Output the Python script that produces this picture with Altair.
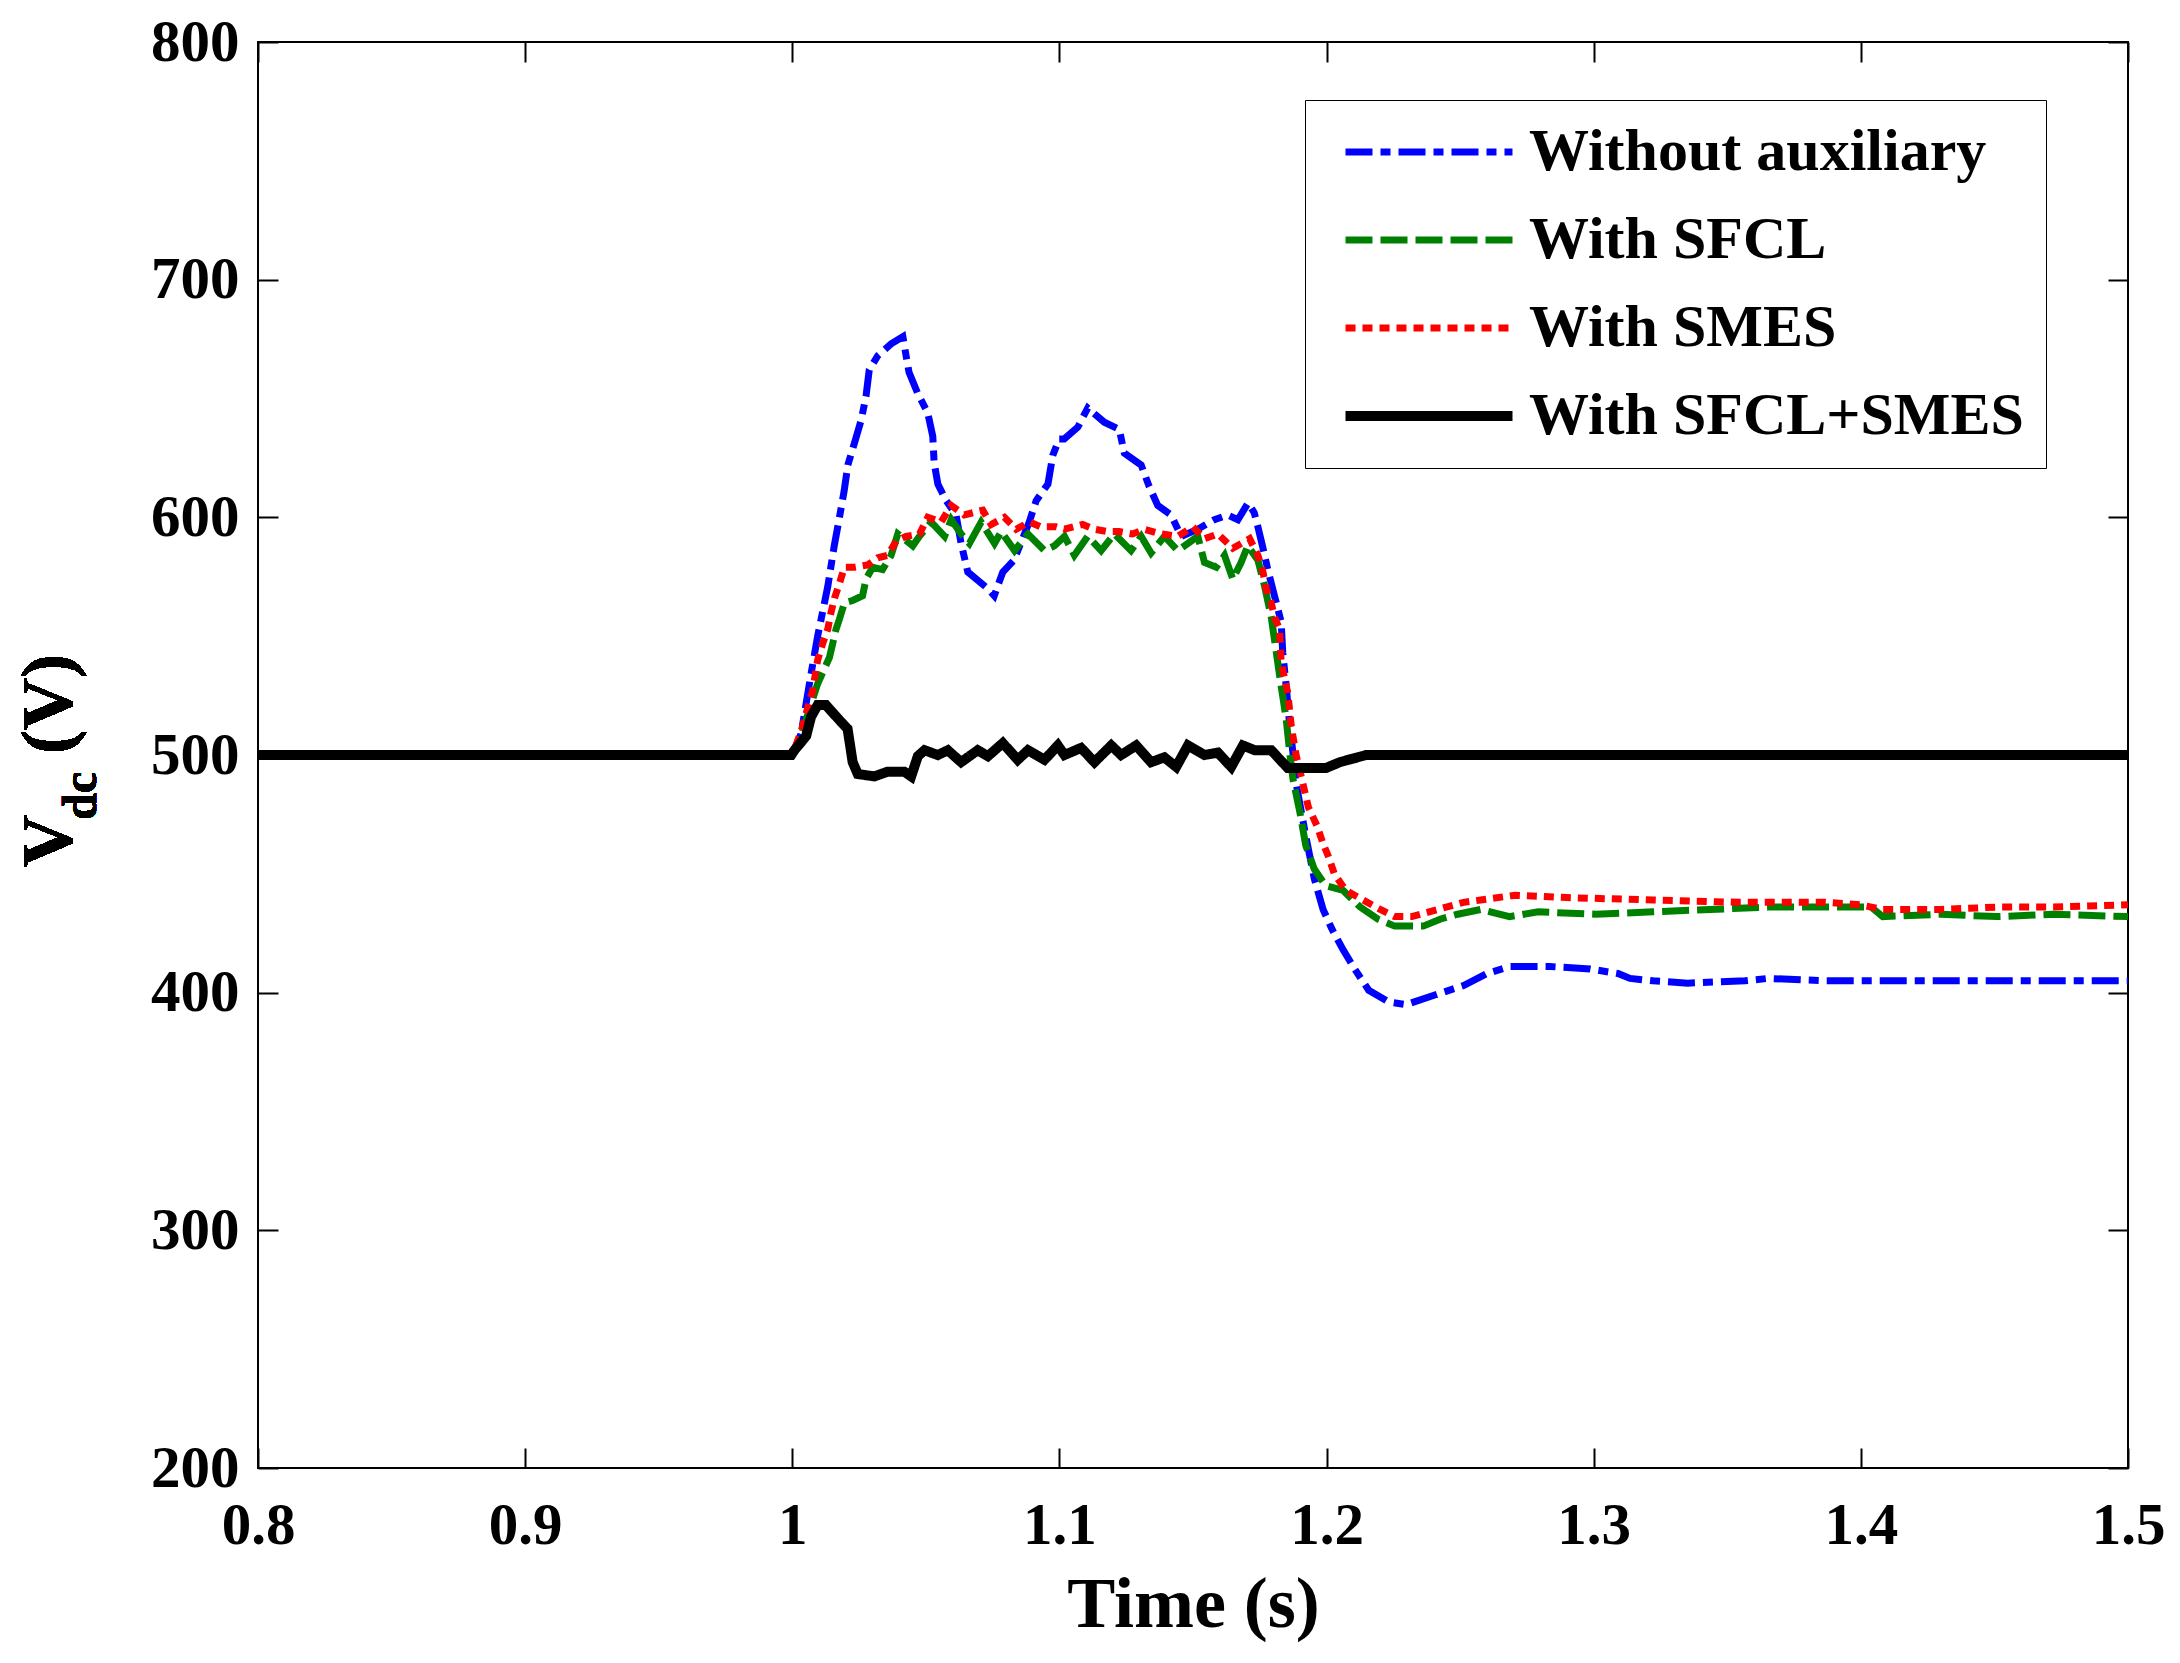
import altair as alt
import pandas as pd

# series names, colours and line styles (legend order = drawing order)
series_names = ["Without auxiliary", "With SFCL", "With SMES", "With SFCL+SMES"]
series_colors = ["#0000ff", "#008000", "#ff0000", "#000000"]
series_dash = [[27, 8, 10, 8], [27, 8], [10, 7], [1, 0]]
series_width = [7, 7, 7, 10]

# (time s, Vdc V)
without_aux = [
    (0.8, 500), (1.0, 500), (1.0033, 509), (1.007, 534), (1.0095, 550), (1.0133, 571),
    (1.0157, 588), (1.0175, 599), (1.0194, 611), (1.0208, 622), (1.0232, 631), (1.0258, 641),
    (1.0276, 651), (1.0288, 662), (1.032, 668), (1.037, 673), (1.0414, 676), (1.0426, 668),
    (1.0437, 661), (1.047, 652), (1.0507, 644), (1.0526, 634), (1.0531, 623), (1.0545, 614),
    (1.0576, 607), (1.0613, 601), (1.0632, 589), (1.0657, 577), (1.0732, 570), (1.0756, 567),
    (1.0788, 577), (1.083, 582), (1.0887, 598), (1.0913, 607), (1.0957, 614), (1.0975, 626),
    (1.0999, 633), (1.1018, 633), (1.1069, 638), (1.1106, 646), (1.1168, 640), (1.1224, 637),
    (1.1243, 627), (1.1306, 622), (1.1336, 613), (1.1368, 605), (1.1418, 601), (1.1456, 592),
    (1.1518, 595), (1.158, 599), (1.163, 601), (1.1668, 599), (1.1706, 606), (1.1729, 602),
    (1.1743, 596), (1.176, 588), (1.178, 578), (1.1805, 567), (1.183, 556), (1.1836, 543),
    (1.1849, 529), (1.186, 515), (1.1874, 501), (1.1886, 488), (1.1922, 466), (1.1954, 448),
    (1.1987, 435), (1.2019, 427), (1.2062, 418), (1.2105, 410), (1.2158, 401), (1.2234, 396),
    (1.2298, 395), (1.2405, 399), (1.2513, 403), (1.2599, 408), (1.2685, 411), (1.2835, 411),
    (1.2986, 410), (1.3093, 408), (1.3136, 406), (1.3222, 405), (1.3351, 404), (1.3566, 405),
    (1.3652, 406), (1.3867, 405), (1.5, 405),
]
with_sfcl = [
    (0.8, 500), (1.0, 500), (1.0035, 509), (1.0095, 530), (1.0139, 541), (1.0164, 553),
    (1.0176, 557), (1.0195, 564), (1.0226, 565), (1.0263, 567), (1.0276, 574), (1.0301, 579),
    (1.0338, 578), (1.037, 584), (1.0395, 593), (1.0451, 588), (1.0476, 592), (1.052, 598),
    (1.057, 592), (1.0595, 599), (1.0632, 593), (1.0663, 589), (1.0707, 598), (1.0757, 589),
    (1.0782, 594), (1.0832, 586), (1.0882, 593), (1.0944, 586), (1.0981, 588), (1.1019, 592),
    (1.1056, 584), (1.1106, 592), (1.1156, 586), (1.1206, 593), (1.1268, 586), (1.1306, 592),
    (1.1343, 585), (1.1393, 592), (1.1443, 586), (1.1518, 592), (1.1543, 581), (1.1587, 579),
    (1.1618, 584), (1.1649, 574), (1.168, 581), (1.1705, 588), (1.1743, 582), (1.1768, 571),
    (1.1793, 558), (1.1812, 543), (1.183, 529), (1.1849, 515), (1.1862, 501), (1.1874, 490),
    (1.19, 476), (1.1922, 462), (1.1954, 452), (1.1997, 445), (1.2062, 443), (1.2126, 436),
    (1.2191, 431), (1.2255, 428), (1.2362, 428), (1.2427, 431), (1.2491, 433), (1.2577, 435),
    (1.2685, 432), (1.2792, 434), (1.3007, 433), (1.3222, 434), (1.3437, 435), (1.3652, 436),
    (1.3867, 436), (1.4039, 436), (1.4082, 432), (1.4297, 433), (1.451, 432), (1.472, 433),
    (1.5, 432),
]
with_smes = [
    (0.8, 500), (1.0, 500), (1.0033, 510), (1.0076, 527), (1.0095, 540), (1.0114, 547),
    (1.0133, 553), (1.0145, 560), (1.0158, 566), (1.0176, 572), (1.0195, 579), (1.0232, 579),
    (1.0283, 580), (1.032, 583), (1.0357, 584), (1.0389, 590), (1.0426, 592), (1.0476, 593),
    (1.0507, 600), (1.0557, 598), (1.0595, 605), (1.0644, 601), (1.0713, 603), (1.0744, 597),
    (1.0794, 600), (1.0838, 595), (1.0888, 598), (1.0931, 596), (1.0988, 596), (1.1019, 595),
    (1.1087, 597), (1.1131, 595), (1.118, 594), (1.1224, 594), (1.1274, 593), (1.1318, 595),
    (1.1381, 593), (1.1443, 592), (1.15, 596), (1.1543, 591), (1.1593, 593), (1.1649, 587),
    (1.1712, 591), (1.1743, 584), (1.1762, 577), (1.1774, 570), (1.1793, 564), (1.1805, 558),
    (1.1824, 553), (1.183, 539), (1.1855, 526), (1.1868, 512), (1.1886, 500), (1.1905, 491),
    (1.1932, 478), (1.1965, 470), (1.1986, 463), (1.2008, 457), (1.2029, 450), (1.2072, 443),
    (1.2137, 439), (1.2201, 435), (1.2255, 432), (1.2319, 432), (1.2384, 434), (1.2448, 436),
    (1.2513, 438), (1.2577, 439), (1.2706, 441), (1.29, 440), (1.3222, 439), (1.3545, 438),
    (1.3867, 438), (1.3996, 437), (1.4082, 435), (1.4297, 435), (1.451, 436), (1.472, 436),
    (1.5, 437),
]
with_both = [
    (0.8, 500), (0.9996, 500), (1.0008, 502), (1.0052, 508), (1.007, 516), (1.0095, 521),
    (1.0126, 521), (1.0182, 514), (1.0207, 511), (1.0226, 497), (1.0245, 492), (1.0307, 491),
    (1.0357, 493), (1.0419, 493), (1.0445, 491), (1.047, 499.5), (1.0495, 502), (1.0545, 500),
    (1.0582, 502), (1.0632, 497), (1.0694, 502), (1.0732, 499.5), (1.0788, 505), (1.0844, 498),
    (1.0882, 502), (1.0944, 498), (1.0994, 504), (1.1019, 500), (1.1081, 503), (1.1131, 497),
    (1.1194, 504), (1.1231, 500), (1.1287, 504), (1.1343, 497), (1.1393, 499), (1.1437, 495),
    (1.1481, 504), (1.1543, 500), (1.1593, 501), (1.1643, 495), (1.1687, 504), (1.1731, 502),
    (1.1793, 502), (1.1855, 494.5), (1.1997, 494.5), (1.205, 497), (1.2148, 500), (1.5, 500),
]

x_ticks = [0.8, 0.9, 1.0, 1.1, 1.2, 1.3, 1.4, 1.5]
y_ticks = [200, 300, 400, 500, 600, 700, 800]
y_title_parts = ["V", "dc", "(V)"]

W = 1870
H = 1426
FONT = "Liberation Serif"

rows = []
for name, pts in zip(series_names, [without_aux, with_sfcl, with_smes, with_both]):
    for t, v in pts:
        rows.append({"series": name, "t": t, "v": v})
df = pd.DataFrame(rows)

xs = alt.Scale(domain=[0.8, 1.5], nice=False, zero=False)
ys = alt.Scale(domain=[200, 800], nice=False, zero=False)

# long horizontal line symbol with a small layout size (keeps the rows tight)
leg = alt.Legend(
    title=None, orient="none", legendX=1047, legendY=58, direction="vertical",
    symbolType="M-4.175,0H4.175", symbolSize=1600, symbolOffset=72, labelFont=FONT,
    labelFontWeight="bold", labelFontSize=60, labelColor="black", labelOffset=70,
    rowPadding=28, padding=22, strokeColor="black", fillColor="white", labelLimit=0,
)

lines = alt.Chart(df).mark_line().encode(
    x=alt.X("t:Q", scale=xs, axis=alt.Axis(
        orient="bottom", values=x_ticks, format="~g", title="Time (s)", grid=False,
        domain=False, ticks=False, labelFlush=False, labelPadding=28, labelFont=FONT,
        labelFontWeight="bold", labelFontSize=59, labelColor="black", titleFont=FONT,
        titleFontWeight="bold", titleFontSize=72, titleColor="black", titlePadding=14)),
    y=alt.Y("v:Q", scale=ys, axis=alt.Axis(
        orient="left", values=y_ticks, format="d", title=None, grid=False,
        domain=False, ticks=False, labelFlush=False, labelPadding=19, labelFont=FONT,
        labelFontWeight="bold", labelFontSize=59, labelColor="black")),
    color=alt.Color("series:N", scale=alt.Scale(domain=series_names, range=series_colors), legend=leg),
    strokeDash=alt.StrokeDash("series:N", scale=alt.Scale(domain=series_names, range=series_dash), legend=leg),
    strokeWidth=alt.StrokeWidth("series:N", scale=alt.Scale(type="ordinal", domain=series_names,
                                                             range=series_width), legend=leg),
)

# inward ticks (MATLAB style) on all four sides
ticks_a = alt.Chart(df).mark_point(opacity=0).encode(
    x=alt.X("t:Q", scale=xs, axis=alt.Axis(orient="top", offset=-H, values=x_ticks, labels=False,
                                            domain=False, grid=False, tickSize=20, tickWidth=2,
                                            tickColor="black", title=None)),
    y=alt.Y("v:Q", scale=ys, axis=alt.Axis(orient="right", offset=-W, values=y_ticks, labels=False,
                                            domain=False, grid=False, tickSize=20, tickWidth=2,
                                            tickColor="black", title=None)),
)
ticks_b = alt.Chart(df).mark_point(opacity=0).encode(
    x=alt.X("t:Q", scale=xs, axis=alt.Axis(orient="bottom", offset=-H, values=x_ticks, labels=False,
                                            domain=False, grid=False, tickSize=20, tickWidth=2,
                                            tickColor="black", title=None)),
    y=alt.Y("v:Q", scale=ys, axis=alt.Axis(orient="left", offset=-W, values=y_ticks, labels=False,
                                            domain=False, grid=False, tickSize=20, tickWidth=2,
                                            tickColor="black", title=None)),
)

# y title with subscript: V_dc (V)
t_v = alt.Chart(df).mark_text(text=y_title_parts[0], angle=270, font=FONT, fontWeight="bold",
                              fontSize=72, align="center", baseline="alphabetic", color="black").encode(
    x=alt.value(-187), y=alt.value(799))
t_dc = alt.Chart(df).mark_text(text=y_title_parts[1], angle=270, font=FONT, fontWeight="bold",
                               fontSize=48, align="center", baseline="alphabetic", color="black").encode(
    x=alt.value(-162), y=alt.value(754))
t_unit = alt.Chart(df).mark_text(text=y_title_parts[2], angle=270, font=FONT, fontWeight="bold",
                                 fontSize=72, align="center", baseline="alphabetic", color="black").encode(
    x=alt.value(-187), y=alt.value(662))

chart = alt.layer(lines, ticks_a, ticks_b, t_v, t_dc, t_unit).resolve_axis(
    x="independent", y="independent"
).properties(
    width=W, height=H, padding={"left": 5, "top": 5, "right": 5, "bottom": 5}, background="white"
).configure_view(stroke="black", strokeWidth=2)

chart.save("out.html", embed_options={"renderer": "svg", "actions": False})
